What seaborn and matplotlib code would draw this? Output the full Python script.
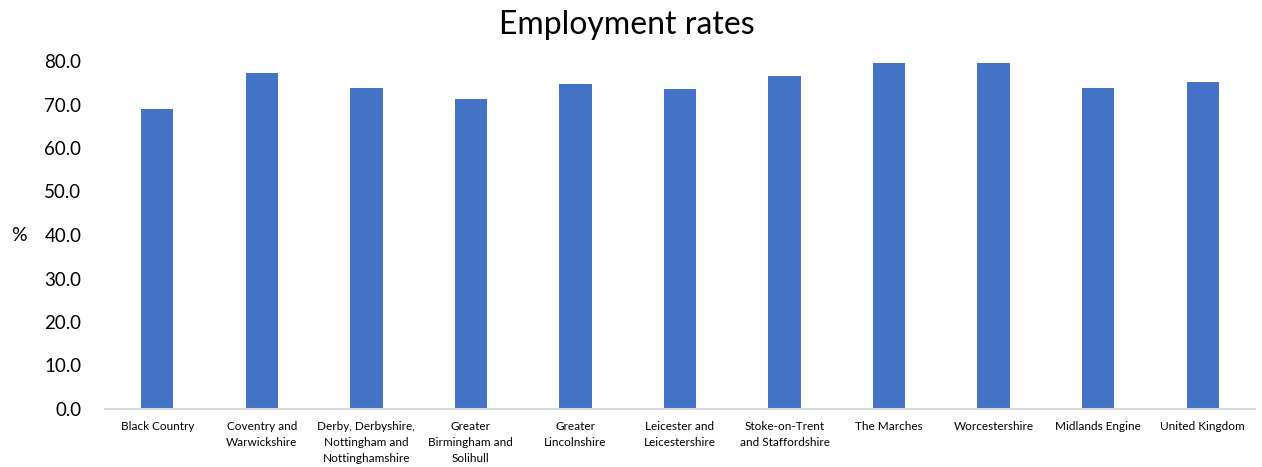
import matplotlib
matplotlib.use("Agg")
import matplotlib.pyplot as plt
import seaborn as sns
import pandas as pd

categories = [
    "Black Country",
    "Coventry and\nWarwickshire",
    "Derby, Derbyshire,\nNottingham and\nNottinghamshire",
    "Greater\nBirmingham and\nSolihull",
    "Greater\nLincolnshire",
    "Leicester and\nLeicestershire",
    "Stoke-on-Trent\nand Staffordshire",
    "The Marches",
    "Worcestershire",
    "Midlands Engine",
    "United Kingdom",
]
rates = [68.9, 77.2, 73.7, 71.2, 74.7, 73.6, 76.6, 79.5, 79.5, 73.7, 75.2]
yticks = [0, 10, 20, 30, 40, 50, 60, 70, 80]

sns.set_theme(style="white")
plt.rcParams["font.family"] = ["Lato", "DejaVu Sans"]

df = pd.DataFrame({"area": categories, "rate": rates})

fig = plt.figure(figsize=(12.62, 4.67), dpi=100)
ax = fig.add_axes([105 / 1262, (467 - 409) / 467, 1150 / 1262, (409 - 61) / 467])
sns.barplot(data=df, x="area", y="rate", color="#4472C4", saturation=1,
            width=0.31, ax=ax, edgecolor="none")

ax.set_ylim(0, 80)
ax.set_xlim(-0.5, len(categories) - 0.5)
ax.set_yticks(yticks)
ax.set_yticklabels([f"{v:.1f}" for v in yticks], fontsize=13.5, color="#000000")
ax.tick_params(axis="y", length=0, pad=17)
ax.tick_params(axis="x", length=0, pad=9)
for lbl in ax.get_xticklabels():
    lbl.set_fontsize(8.5)
    lbl.set_linespacing(1.5)
    lbl.set_color("#000000")
    lbl.set_verticalalignment("top")

for s in ["top", "right", "left"]:
    ax.spines[s].set_visible(False)
ax.spines["bottom"].set_color("#D9D9D9")
ax.spines["bottom"].set_linewidth(1.5)

ax.set_xlabel("")
ax.set_ylabel("%", fontsize=14, rotation=0, color="#000000", labelpad=0,
              ha="center", va="center")
ax.yaxis.set_label_coords(-86 / 1150, (409 - 235) / 348)

fig.text(627 / 1262, 1 - 25 / 467, "Employment rates", ha="center", va="center",
         fontsize=23, color="#000000")

fig.savefig("out.png", dpi=100, facecolor="white")
